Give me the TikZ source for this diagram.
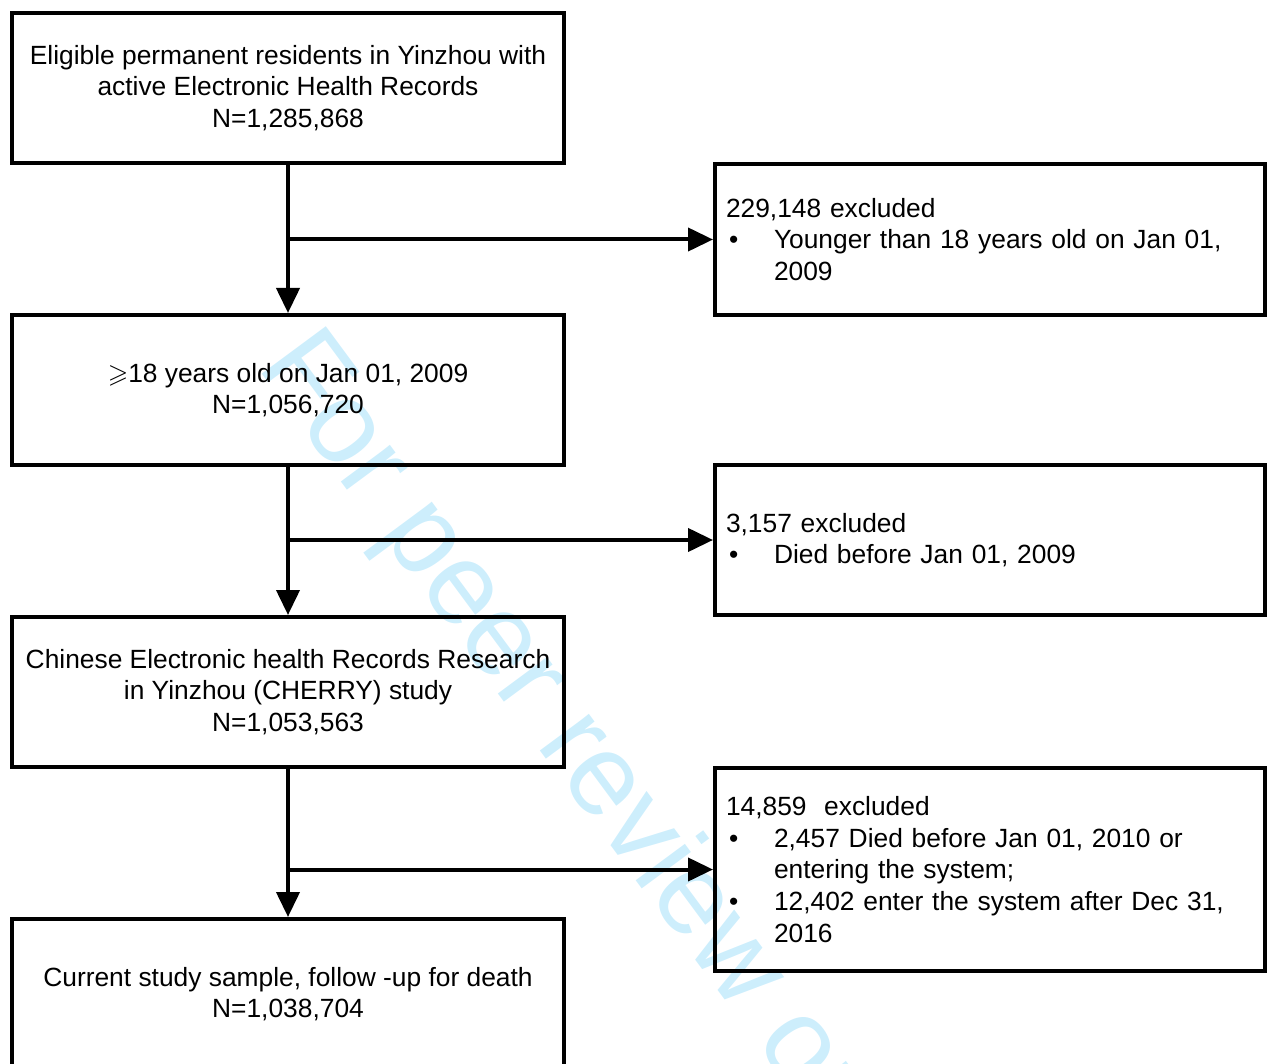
\documentclass[tikz,border=0pt]{standalone}
\usepackage{amsmath,amssymb}
\usepackage{fontspec}
\setmainfont{Liberation Sans}
\usetikzlibrary{positioning,arrows.meta}
\definecolor{wmblue}{HTML}{CDEEFC}
\newcommand{\bul}{\makebox[0.96cm][l]{\hspace{0.06cm}\textbullet}}
\newcommand{\ind}{\hspace*{0.96cm}}

\begin{document}
\begin{tikzpicture}[>={Triangle[length=0.5cm,width=0.46cm]}, line width=0.08cm, node distance=6.04cm, on grid,
		font=\fontsize{15}{18}\selectfont,
		stage/.style={draw, minimum width=11.04cm, minimum height=3cm, align=center},
		excl/.style={draw, minimum height=3cm, inner xsep=0.22cm, text width=10.56cm, align=left}]
			\useasboundingbox (0,0) rectangle (25.4,-21.28);
			\node[wmblue, rotate=-53.5, inner sep=0pt, anchor=base west, font=\fontsize{66}{70}\selectfont] (wm) at (5.1,-7.3) {For peer review only};
			\node[stage]   (s_1) at (5.76,-1.76) {Eligible permanent residents in Yinzhou with\\active Electronic Health Records\\N=1,285,868};
			\node[stage]   (s_2) [below=of s_1] {$\geqslant$18 years old on Jan 01, 2009\\N=1,056,720};
			\node[stage]   (s_3) [below=of s_2] {Chinese Electronic health Records Research\\in Yinzhou (CHERRY) study\\N=1,053,563};
			\node[stage]   (s_4) [below=of s_3] {Current study sample, follow -up for death\\N=1,038,704};
			\node[excl]    (e_1) [below right=3.03cm and 14.04cm of s_1] {229,148 excluded\\\bul Younger than 18 years old on Jan 01,\\\ind 2009};
			\node[excl]    (e_2) [below right=3cm and 14.04cm of s_2] {3,157 excluded\\\bul Died before Jan 01, 2009};
			\node[excl, minimum height=4.06cm] (e_3) [below right=3.55cm and 14.04cm of s_3] {14,859\ \ excluded\\\bul 2,457 Died before Jan 01, 2010 or\\\ind entering the system;\\\bul 12,402 enter the system after Dec 31,\\\ind 2016};
			\coordinate (b_1) at (s_1 |- e_1);
			\coordinate (b_2) at (s_2 |- e_2);
			\coordinate (b_3) at (s_3 |- e_3);
			\path[->] (s_1) edge (s_2)
			(s_2) edge (s_3)
			(s_3) edge (s_4)
			(b_1) edge (e_1)
			(b_2) edge (e_2)
			(b_3) edge (e_3);
		\end{tikzpicture}
\end{document}
